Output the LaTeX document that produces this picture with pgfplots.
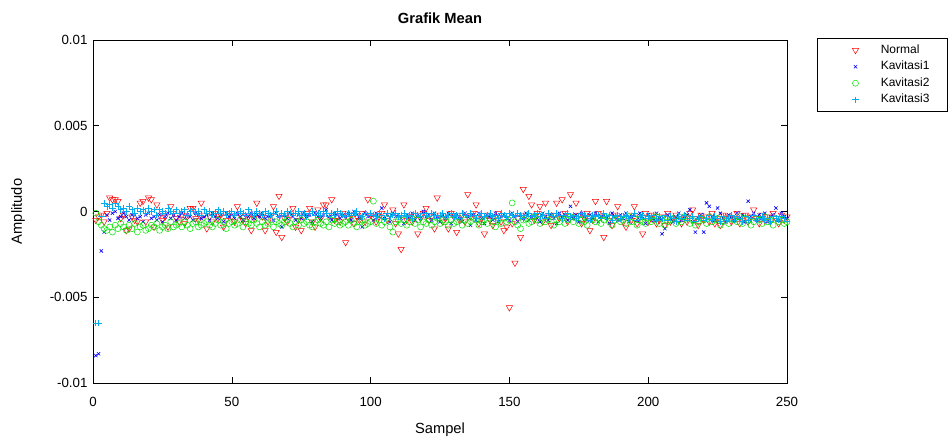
\documentclass[border=0pt]{standalone}
\usepackage{fontspec}
\setmainfont{Liberation Sans}
\usepackage{pgfplots}
\usepackage{pgfplotstable}
\pgfplotsset{compat=1.18}

\pgfplotstableread[row sep=\\]{y\\
-5e-4\\-3e-4\\-2e-4\\-6e-4\\-1e-4\\8e-4\\7e-4\\7e-4\\6e-4\\-4e-4\\
-2e-4\\-11e-4\\-10e-4\\-3e-4\\-5e-4\\-6e-4\\5e-4\\6e-4\\-6e-4\\8e-4\\
7e-4\\-9e-4\\4e-4\\-2e-4\\-5e-4\\-3e-4\\-9e-4\\3e-4\\-1e-4\\-4e-4\\
-6e-4\\-2e-4\\-7e-4\\-3e-4\\2e-4\\2e-4\\-4e-4\\-5e-4\\5e-4\\-2e-4\\
-10e-4\\-3e-4\\-6e-4\\-1e-4\\-4e-4\\-2e-4\\-9e-4\\-5e-4\\-1e-4\\-3e-4\\
-6e-4\\3e-4\\-2e-4\\-5e-4\\-7e-4\\-3e-4\\-11e-4\\-4e-4\\5e-4\\-2e-4\\
-3e-4\\-11e-4\\-6e-4\\-2e-4\\3e-4\\-12e-4\\9e-4\\-15e-4\\-4e-4\\-6e-4\\
-2e-4\\2e-4\\-9e-4\\-5e-4\\-11e-4\\-3e-4\\-1e-4\\2e-4\\-6e-4\\-9e-4\\
1e-4\\-4e-4\\4e-4\\4e-4\\-2e-4\\7e-4\\-5e-4\\-3e-4\\-6e-4\\-1e-4\\
-18e-4\\-4e-4\\-2e-4\\-7e-4\\-3e-4\\-5e-4\\-1e-4\\-6e-4\\7e-4\\-2e-4\\
-4e-4\\-6e-4\\-3e-4\\-1e-4\\4e-4\\-5e-4\\-2e-4\\1e-4\\-7e-4\\-13e-4\\
-22e-4\\4e-4\\-5e-4\\-3e-4\\-6e-4\\-2e-4\\-13e-4\\-4e-4\\-1e-4\\2e-4\\
-5e-4\\-3e-4\\-10e-4\\8e-4\\-2e-4\\-6e-4\\-4e-4\\-10e-4\\-1e-4\\-3e-4\\
-12e-4\\-5e-4\\-2e-4\\-6e-4\\10e-4\\-3e-4\\-1e-4\\4e-4\\-7e-4\\-4e-4\\
-13e-4\\-2e-4\\-5e-4\\-8e-4\\-3e-4\\-1e-4\\-6e-4\\-11e-4\\-9e-4\\-56e-4\\
-7e-4\\-30e-4\\-4e-4\\-15e-4\\13e-4\\-2e-4\\9e-4\\4e-4\\-5e-4\\-1e-4\\
3e-4\\-6e-4\\5e-4\\-3e-4\\-8e-4\\-2e-4\\5e-4\\-4e-4\\7e-4\\-1e-4\\
-6e-4\\10e-4\\-3e-4\\5e-4\\-2e-4\\-7e-4\\-4e-4\\-1e-4\\-11e-4\\-5e-4\\
6e-4\\-1e-4\\-3e-4\\-15e-4\\6e-4\\-5e-4\\-8e-4\\-2e-4\\3e-4\\-4e-4\\
-6e-4\\-9e-4\\-2e-4\\-5e-4\\3e-4\\-7e-4\\-3e-4\\-13e-4\\-1e-4\\-6e-4\\
-4e-4\\-2e-4\\-7e-4\\-5e-4\\-3e-4\\-8e-4\\-1e-4\\-6e-4\\-4e-4\\-2e-4\\
-5e-4\\-7e-4\\-3e-4\\-6e-4\\-1e-4\\1e-4\\-4e-4\\-8e-4\\-2e-4\\-5e-4\\
-3e-4\\-6e-4\\-1e-4\\-7e-4\\-4e-4\\-8e-4\\-2e-4\\-5e-4\\-3e-4\\-6e-4\\
-4e-4\\-1e-4\\-7e-4\\-5e-4\\-2e-4\\-6e-4\\-3e-4\\1e-4\\-4e-4\\-7e-4\\
-2e-4\\-5e-4\\-3e-4\\-6e-4\\-1e-4\\-4e-4\\-7e-4\\-2e-4\\-5e-4\\-3e-4\\
}\normaldata

\pgfplotstableread[row sep=\\]{y\\
-84e-4\\-83e-4\\-23e-4\\-12e-4\\-2e-4\\-5e-4\\-1e-4\\0\\-4e-4\\-3e-4\\
-1e-4\\-3e-4\\-5e-4\\-2e-4\\-2e-4\\-4e-4\\-3e-4\\-6e-4\\-2e-4\\-1e-4\\
-4e-4\\-3e-4\\-5e-4\\-2e-4\\-6e-4\\-3e-4\\-1e-4\\-4e-4\\-2e-4\\-5e-4\\
-3e-4\\-1e-4\\-4e-4\\-2e-4\\-3e-4\\-5e-4\\-1e-4\\-2e-4\\-4e-4\\-3e-4\\
-2e-4\\-5e-4\\-1e-4\\-3e-4\\-4e-4\\-2e-4\\-6e-4\\-1e-4\\-3e-4\\-2e-4\\
-4e-4\\-1e-4\\-3e-4\\-5e-4\\-2e-4\\-3e-4\\-1e-4\\-4e-4\\-2e-4\\-3e-4\\
-1e-4\\-4e-4\\-3e-4\\-2e-4\\-5e-4\\-1e-4\\-3e-4\\-9e-4\\-2e-4\\-4e-4\\
-1e-4\\-3e-4\\-5e-4\\-2e-4\\-4e-4\\-1e-4\\-3e-4\\-2e-4\\-6e-4\\-1e-4\\
-3e-4\\-4e-4\\-2e-4\\1e-4\\-3e-4\\-5e-4\\-1e-4\\-2e-4\\-4e-4\\-2e-4\\
-3e-4\\-1e-4\\-5e-4\\0\\-2e-4\\-4e-4\\-9e-4\\-1e-4\\-3e-4\\-2e-4\\
-5e-4\\-1e-4\\-3e-4\\2e-4\\-4e-4\\-2e-4\\-6e-4\\-1e-4\\-3e-4\\-2e-4\\
-4e-4\\-7e-4\\-2e-4\\-3e-4\\-1e-4\\-5e-4\\-2e-4\\-4e-4\\0\\-3e-4\\
-2e-4\\-5e-4\\-1e-4\\-3e-4\\-6e-4\\-2e-4\\-4e-4\\-1e-4\\-7e-4\\-3e-4\\
-2e-4\\-4e-4\\-6e-4\\-1e-4\\-3e-4\\-8e-4\\-2e-4\\-5e-4\\-1e-4\\-4e-4\\
-7e-4\\-2e-4\\-3e-4\\-5e-4\\-1e-4\\-6e-4\\-3e-4\\-2e-4\\-4e-4\\-5e-4\\
-1e-4\\-3e-4\\-6e-4\\-2e-4\\-4e-4\\-1e-4\\-5e-4\\-3e-4\\-2e-4\\-4e-4\\
-6e-4\\-1e-4\\-3e-4\\-5e-4\\-2e-4\\-4e-4\\-7e-4\\-1e-4\\-3e-4\\-2e-4\\
-5e-4\\3e-4\\-4e-4\\-2e-4\\-6e-4\\-1e-4\\-3e-4\\-5e-4\\-2e-4\\-4e-4\\
-1e-4\\-6e-4\\-3e-4\\-2e-4\\-4e-4\\-7e-4\\-1e-4\\-3e-4\\-5e-4\\-2e-4\\
-4e-4\\-1e-4\\-6e-4\\-3e-4\\-2e-4\\-5e-4\\-1e-4\\-4e-4\\-7e-4\\-2e-4\\
-3e-4\\-5e-4\\-1e-4\\-4e-4\\-13e-4\\-10e-4\\-2e-4\\-4e-4\\-6e-4\\-3e-4\\
-1e-4\\-5e-4\\-3e-4\\-2e-4\\1e-4\\-6e-4\\-12e-4\\-4e-4\\-2e-4\\-12e-4\\
5e-4\\3e-4\\-3e-4\\-5e-4\\2e-4\\-1e-4\\-4e-4\\-6e-4\\-2e-4\\-3e-4\\
-5e-4\\-1e-4\\-4e-4\\-2e-4\\-6e-4\\6e-4\\-3e-4\\-1e-4\\-5e-4\\-2e-4\\
-4e-4\\-1e-4\\-6e-4\\-3e-4\\-2e-4\\2e-4\\-5e-4\\-1e-4\\-3e-4\\-4e-4\\
}\kavA

\pgfplotstableread[row sep=\\]{y\\
-1e-4\\-6e-4\\-8e-4\\-10e-4\\-11e-4\\-9e-4\\-12e-4\\-8e-4\\-10e-4\\-7e-4\\
-9e-4\\-11e-4\\-8e-4\\-10e-4\\-7e-4\\-12e-4\\-9e-4\\-8e-4\\-11e-4\\-10e-4\\
-8e-4\\-9e-4\\-7e-4\\-11e-4\\-9e-4\\-8e-4\\-10e-4\\-6e-4\\-9e-4\\-8e-4\\
-7e-4\\-9e-4\\-6e-4\\-8e-4\\-10e-4\\-7e-4\\-6e-4\\-9e-4\\-8e-4\\-7e-4\\
-6e-4\\-8e-4\\-9e-4\\-7e-4\\-5e-4\\-8e-4\\-6e-4\\-10e-4\\-7e-4\\-6e-4\\
-8e-4\\-7e-4\\-5e-4\\-9e-4\\-6e-4\\-7e-4\\-8e-4\\-5e-4\\-7e-4\\-9e-4\\
-6e-4\\-8e-4\\-7e-4\\-5e-4\\-9e-4\\-6e-4\\-7e-4\\-8e-4\\-6e-4\\-5e-4\\
-7e-4\\-9e-4\\-6e-4\\-8e-4\\-5e-4\\-7e-4\\-6e-4\\-8e-4\\-9e-4\\-6e-4\\
-5e-4\\-7e-4\\-8e-4\\-6e-4\\-9e-4\\-5e-4\\-7e-4\\-6e-4\\-8e-4\\-7e-4\\
-6e-4\\-8e-4\\-5e-4\\-7e-4\\-9e-4\\-6e-4\\-5e-4\\-8e-4\\-7e-4\\-6e-4\\
6e-4\\-7e-4\\-5e-4\\-8e-4\\-6e-4\\-4e-4\\-9e-4\\-12e-4\\-6e-4\\-5e-4\\
-7e-4\\-5e-4\\-8e-4\\-6e-4\\-4e-4\\-7e-4\\-5e-4\\-9e-4\\-6e-4\\-7e-4\\
-5e-4\\-8e-4\\-6e-4\\-4e-4\\-7e-4\\-5e-4\\-6e-4\\-8e-4\\-5e-4\\-7e-4\\
-6e-4\\-4e-4\\-8e-4\\-5e-4\\-7e-4\\-6e-4\\-4e-4\\-5e-4\\-8e-4\\-6e-4\\
-5e-4\\-7e-4\\-4e-4\\-6e-4\\-9e-4\\-5e-4\\-7e-4\\-4e-4\\-6e-4\\-5e-4\\
5e-4\\-6e-4\\-8e-4\\-10e-4\\-5e-4\\-4e-4\\-7e-4\\-6e-4\\-3e-4\\-5e-4\\
-7e-4\\-4e-4\\-6e-4\\-5e-4\\-3e-4\\-8e-4\\-5e-4\\-6e-4\\-4e-4\\-7e-4\\
-5e-4\\-3e-4\\-6e-4\\-4e-4\\-7e-4\\-5e-4\\-6e-4\\-8e-4\\-4e-4\\-5e-4\\
-6e-4\\-4e-4\\-7e-4\\-5e-4\\-3e-4\\-6e-4\\-8e-4\\-5e-4\\-4e-4\\-6e-4\\
-5e-4\\-7e-4\\-3e-4\\-6e-4\\-4e-4\\-8e-4\\-5e-4\\-6e-4\\-7e-4\\-4e-4\\
-6e-4\\-5e-4\\-3e-4\\-7e-4\\-4e-4\\-8e-4\\-6e-4\\-5e-4\\-4e-4\\-7e-4\\
-5e-4\\-6e-4\\-3e-4\\-4e-4\\-7e-4\\-5e-4\\-8e-4\\-6e-4\\-4e-4\\-5e-4\\
-7e-4\\-3e-4\\-6e-4\\-5e-4\\-4e-4\\-8e-4\\-6e-4\\-5e-4\\-7e-4\\-4e-4\\
-5e-4\\-6e-4\\-3e-4\\-7e-4\\-4e-4\\-5e-4\\-8e-4\\-6e-4\\-4e-4\\-5e-4\\
-7e-4\\-3e-4\\-6e-4\\-5e-4\\-8e-4\\-4e-4\\-6e-4\\-5e-4\\-7e-4\\-6e-4\\
}\kavB

\pgfplotstableread[row sep=\\]{y\\
-65e-4\\-65e-4\\-3e-4\\5e-4\\3e-4\\4e-4\\2e-4\\5e-4\\3e-4\\1e-4\\
2e-4\\0\\3e-4\\1e-4\\-1e-4\\2e-4\\0\\1e-4\\-1e-4\\2e-4\\
0\\1e-4\\-2e-4\\1e-4\\0\\-1e-4\\2e-4\\0\\-1e-4\\1e-4\\
-1e-4\\0\\1e-4\\-2e-4\\0\\1e-4\\-1e-4\\0\\-2e-4\\1e-4\\
-1e-4\\0\\-2e-4\\-1e-4\\1e-4\\-1e-4\\0\\-2e-4\\-1e-4\\0\\
-2e-4\\-1e-4\\0\\-1e-4\\-2e-4\\1e-4\\-1e-4\\-2e-4\\0\\-1e-4\\
-2e-4\\0\\-1e-4\\-2e-4\\-1e-4\\0\\-3e-4\\-1e-4\\-2e-4\\0\\
-1e-4\\-2e-4\\-1e-4\\0\\-2e-4\\-1e-4\\-3e-4\\-1e-4\\0\\-2e-4\\
-1e-4\\-2e-4\\0\\-1e-4\\-3e-4\\-1e-4\\-2e-4\\0\\-1e-4\\-2e-4\\
-3e-4\\-1e-4\\-2e-4\\-1e-4\\0\\-2e-4\\-3e-4\\-1e-4\\-2e-4\\-1e-4\\
-2e-4\\-3e-4\\-1e-4\\-2e-4\\-4e-4\\-1e-4\\-3e-4\\-2e-4\\-1e-4\\-3e-4\\
-2e-4\\-1e-4\\-3e-4\\-2e-4\\-4e-4\\-1e-4\\-2e-4\\-3e-4\\-1e-4\\-2e-4\\
-3e-4\\-1e-4\\-2e-4\\-4e-4\\-2e-4\\-1e-4\\-3e-4\\-2e-4\\-1e-4\\-3e-4\\
-2e-4\\-4e-4\\-1e-4\\-2e-4\\-3e-4\\-1e-4\\-2e-4\\-4e-4\\-2e-4\\-1e-4\\
-3e-4\\-2e-4\\-1e-4\\-3e-4\\-2e-4\\-4e-4\\-1e-4\\-2e-4\\-3e-4\\-1e-4\\
-2e-4\\-3e-4\\-1e-4\\-2e-4\\-4e-4\\-2e-4\\-1e-4\\-3e-4\\-2e-4\\-1e-4\\
-3e-4\\-2e-4\\-4e-4\\-1e-4\\-2e-4\\-3e-4\\-1e-4\\-2e-4\\-4e-4\\-2e-4\\
-1e-4\\-3e-4\\-2e-4\\-4e-4\\-3e-4\\-1e-4\\-2e-4\\-3e-4\\-5e-4\\-2e-4\\
-3e-4\\-2e-4\\-4e-4\\-1e-4\\-3e-4\\-2e-4\\-5e-4\\-3e-4\\-2e-4\\-4e-4\\
-3e-4\\-2e-4\\-4e-4\\-3e-4\\-1e-4\\-5e-4\\-3e-4\\-2e-4\\-4e-4\\-3e-4\\
-4e-4\\-2e-4\\-5e-4\\-3e-4\\-4e-4\\-2e-4\\-5e-4\\-3e-4\\-4e-4\\-6e-4\\
-3e-4\\-4e-4\\-2e-4\\-5e-4\\-4e-4\\-3e-4\\-6e-4\\-4e-4\\-3e-4\\-5e-4\\
-4e-4\\-2e-4\\-5e-4\\-3e-4\\-4e-4\\-6e-4\\-3e-4\\-5e-4\\-4e-4\\-2e-4\\
-5e-4\\-3e-4\\-4e-4\\-6e-4\\-3e-4\\-5e-4\\-4e-4\\-2e-4\\-5e-4\\-4e-4\\
-3e-4\\-5e-4\\-4e-4\\-6e-4\\-3e-4\\-4e-4\\-5e-4\\-3e-4\\-4e-4\\-6e-4\\
}\kavC

\begin{document}
\begin{tikzpicture}
\path[use as bounding box] (0pt,0pt) rectangle (948pt,441pt);
\begin{axis}[
  at={(93pt,58pt)}, anchor=south west,
  scale only axis, width=694pt, height=343pt,
  xmin=0, xmax=250, ymin=-0.01, ymax=0.01,
  xtick={0,50,100,150,200,250},
  xticklabels={0,50,100,150,200,250},
  ytick={-0.01,-0.005,0,0.005,0.01},
  yticklabels={-0.01,-0.005,0,0.005,0.01},
  scaled y ticks=false,
  tick align=inside,
  major tick length=6pt,
  tick style={black, line width=0.5pt},
  axis line style={black, line width=0.6pt},
  ticklabel style={font=\fontsize{13.3}{15}\selectfont},
  xticklabel style={yshift=-11pt},
  yticklabel style={xshift=-2pt},
  title={\textbf{Grafik Mean}},
  title style={at={(axis description cs:0.5,1.045)}, anchor=center, font=\fontsize{14.7}{17}\selectfont},
  xlabel={Sampel},
  xlabel style={at={(axis description cs:0.5,-0.137)}, anchor=center, font=\fontsize{14.7}{17}\selectfont},
  ylabel={Amplitudo},
  ylabel style={at={(axis description cs:-0.108,0.5)}, anchor=center, font=\fontsize{14.7}{17}\selectfont},
  legend style={at={(1,1)}, anchor=north west, xshift=30pt, yshift=2pt,
    draw=black, line width=0.5pt, inner xsep=3pt, inner ysep=6pt,
    row sep=4.5pt,
    nodes={inner sep=0pt, text height=9pt, text depth=3pt, text width=63pt, anchor=west},
    font=\fontsize{12}{14}\selectfont},
  legend image code/.code={\path (-35pt,0pt) (25pt,0pt); \draw[#1] plot coordinates {(0pt,0pt)};},
]
\addplot[only marks, color=red, mark=triangle, mark size=3.6pt, mark options={rotate=180, line width=0.5pt}]
  table[x expr=\coordindex+1, y=y]{\normaldata};
\addlegendentry{Normal}
\addplot[only marks, color=blue, mark=x, mark size=2.3pt, mark options={line width=0.6pt}]
  table[x expr=\coordindex+1, y=y]{\kavA};
\addlegendentry{Kavitasi1}
\addplot[only marks, color={rgb,1:red,0;green,0.9;blue,0}, mark=o, mark size=3pt, mark options={line width=0.5pt}]
  table[x expr=\coordindex+1, y=y]{\kavB};
\addlegendentry{Kavitasi2}
\addplot[only marks, color=cyan, mark=+, mark size=3.2pt, mark options={line width=0.7pt, draw=cyan}]
  table[x expr=\coordindex+1, y=y]{\kavC};
\addlegendentry{Kavitasi3}
\end{axis}
\end{tikzpicture}
\end{document}
